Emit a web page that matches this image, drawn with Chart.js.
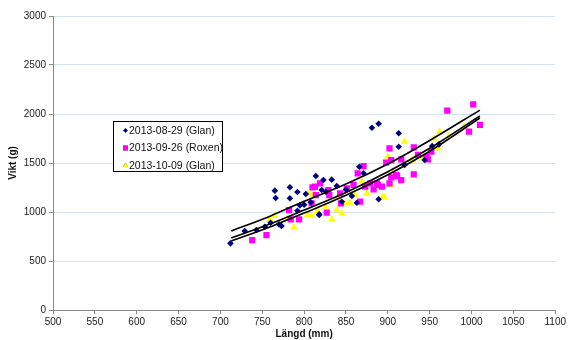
<!DOCTYPE html>
<html>
<head>
<meta charset="utf-8">
<script src="https://cdn.jsdelivr.net/npm/chart.js@4"></script>
<style>
  html, body { margin: 0; padding: 0; background: #fff; }
  #wrap { width: 568px; height: 340px; }
</style>
</head>
<body>
<div id="wrap"><canvas id="vikt" width="568" height="340"></canvas></div>
<script>
// Längd (mm), Vikt (g) per mätning
let glanAug = [[712,680],[729,806],[743,816],[753,850],[760,891],[765,1218],[766,1143],[770,874],[773,857],
  [783,1252],[783,1140],[792,1204],[792,1013],[795,1068],[800,1075],[802,1184],[814,1367],[821,1224],[818,977],
  [823,1327],[833,1330],[839,1265],[826,1207],[866,1462],[871,1395],[881,1860],[889,1901],[913,1803],[913,1666],
  [920,1480],[889,1130],[857,1163],[863,1095],[845,1105],[818,969],[944,1530],[953,1673],[961,1690],[808,1100],[850,1230]];
let roxenSep = [[738,714],[755,765],[782,1020],[784,925],[794,925],[813,1258],[819,1293],[809,1089],[810,1252],
  [814,1173],[829,1224],[830,1173],[843,1190],[844,1089],[827,993],[851,1242],[859,1276],[864,1395],[871,1469],
  [867,1105],[873,1258],[879,1293],[887,1293],[883,1231],[893,1258],[898,1503],[902,1650],[904,1354],[910,1378],
  [916,1326],[904,1530],[902,1293],[888,1276],[911,1367],[916,1537],[931,1660],[931,1384],[936,1582],[946,1565],
  [948,1537],[952,1616],[971,2034],[997,1820],[1002,2099],[1010,1888]];
let glanOkt = [[759,925],[788,844],[805,1190],[810,1173],[804,969],[809,962],[816,1013],[780,935],[826,1054],
  [839,1020],[845,986],[833,925],[849,1089],[855,1095],[861,1173],[853,1224],[875,1190],[896,1150],[900,1565],
  [906,1395],[904,1276],[920,1718],[869,1309],[894,1156],[903,1276],[928,1530],[942,1548],[955,1752],[962,1820],
  [960,1650],[973,1775],[991,1871],[930,1530],[765,960],[840,1150]];

// trendlinjer
let trendAug = [[713,806],[760,960],[800,1110],[850,1285],[900,1490],[950,1730],[1010,2040]];
let trendRoxen = [[713,735],[760,880],[800,1020],[850,1200],[900,1410],[950,1650],[1010,1980]];
let trendOkt = [[713,704],[760,850],[800,990],[850,1170],[900,1380],[950,1620],[1010,1959]];

let serieNamn = ['2013-08-29 (Glan)', '2013-09-26 (Roxen)', '2013-10-09 (Glan)'];
let serieFarg = ['#000080', '#ff00ff', '#ffff00'];
let serieForm = ['rectRot', 'rect', 'triangle'];
let serieStorlek = [3.3, 4.4, 4.3];
let legendStorlek = [2.4, 3.4, 3.0];

const FONT = "'Liberation Sans', Arial, sans-serif";

function punkter(lista) {
  return lista.map(p => ({ x: p[0], y: p[1] }));
}

let matningar = [glanAug, roxenSep, glanOkt];
let trender = [trendAug, trendRoxen, trendOkt];

let datasets = [];
trender.forEach(function (t) {
  datasets.push({
    type: 'line',
    data: punkter(t),
    borderColor: '#000',
    borderWidth: 1.6,
    pointRadius: 0,
    fill: false,
    cubicInterpolationMode: 'monotone',
    order: 0
  });
});
matningar.forEach(function (m, i) {
  datasets.push({
    type: 'scatter',
    label: serieNamn[i],
    data: punkter(m),
    backgroundColor: serieFarg[i],
    borderColor: serieFarg[i],
    borderWidth: 0,
    pointStyle: serieForm[i],
    pointRadius: serieStorlek[i],
    order: 1
  });
});

// egen förklaringsruta inne i diagrammet
const forklaring = {
  id: 'forklaring',
  afterDraw(chart) {
    const ctx = chart.ctx;
    ctx.save();
    ctx.font = '10.5px ' + FONT;
    let x0 = 113.5, y0 = 121.5, w = 109, h = 50;
    ctx.fillStyle = '#fff';
    ctx.fillRect(x0, y0, w, h);
    ctx.strokeStyle = '#000';
    ctx.lineWidth = 1;
    ctx.strokeRect(x0, y0, w, h);
    serieNamn.forEach(function (n, i) {
      let y = 130.5 + i * 17.5;
      Chart.helpers.drawPoint(ctx, {
        pointStyle: serieForm[i], radius: legendStorlek[i], rotation: 0
      }, 125.5, y);
      ctx.fillStyle = serieFarg[i];
      ctx.fill();
      ctx.fillStyle = '#111';
      ctx.textBaseline = 'middle';
      ctx.fillText(n, 129, y + 0.5);
    });
    ctx.restore();
  }
};

let canvas = document.getElementById('vikt');
let diagram = new Chart(canvas, {
  data: { datasets: datasets },
  options: {
    responsive: false,
    animation: false,
    layout: { padding: { top: 16, right: 7, left: 0, bottom: 0 } },
    plugins: {
      legend: { display: false },
      tooltip: { enabled: false }
    },
    scales: {
      x: {
        type: 'linear',
        min: 500,
        max: 1100,
        afterFit: s => { s.height = 30; },
        ticks: { stepSize: 50, color: '#222', font: { family: FONT, size: 10 }, padding: 2, maxRotation: 0,
                 callback: v => String(v) },
        grid: { drawOnChartArea: false, drawTicks: true, tickLength: 4, tickColor: '#888' },
        border: { color: '#888', width: 1 },
        title: { display: true, text: 'Längd (mm)', color: '#111',
                 font: { family: FONT, size: 10, weight: 'bold' }, padding: { top: 0, bottom: 0 } }
      },
      y: {
        min: 0,
        max: 3000,
        afterFit: s => { s.width = 53; },
        ticks: { stepSize: 500, color: '#222', font: { family: FONT, size: 10 }, padding: 3,
                 callback: v => String(v) },
        grid: { color: '#d6e1ef', tickLength: 4, tickColor: '#888' },
        border: { color: '#888', width: 1 },
        title: { display: true, text: 'Vikt (g)', color: '#111',
                 font: { family: FONT, size: 10, weight: 'bold' }, padding: { top: 7, bottom: 0 } }
      }
    }
  },
  plugins: [forklaring]
});
</script>
</body>
</html>
